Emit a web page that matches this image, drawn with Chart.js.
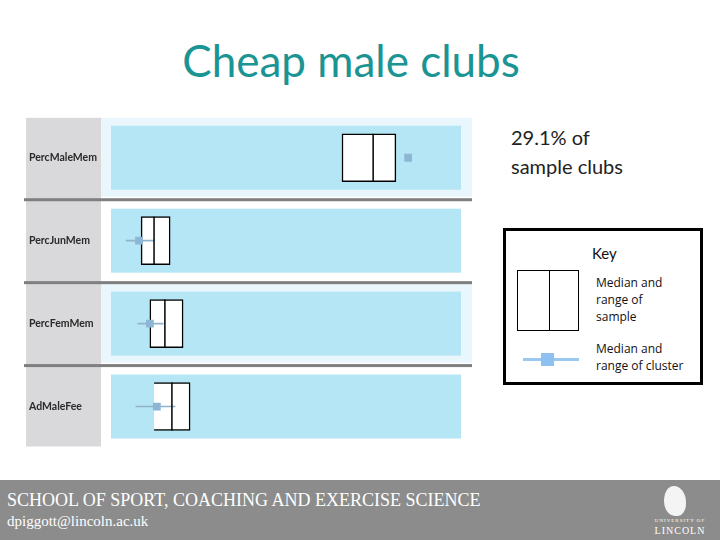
<!DOCTYPE html>
<html>
<head>
<meta charset="utf-8">
<script src="https://cdn.jsdelivr.net/npm/chart.js@4"></script>
<style>
  body { margin: 0; width: 720px; height: 540px; position: relative; background: #fff; overflow: hidden; font-family: "Open Sans", sans-serif; }
  #title { position: absolute; left: 0; width: 702px; top: 34px; text-align: center; font-size: 44px; color: #1b9494; font-family: Lato, "Open Sans", sans-serif; }
  #note { position: absolute; left: 511px; top: 123px; font-size: 20px; line-height: 29px; color: #222; font-family: Lato, sans-serif; }
  #key { position: absolute; left: 503px; top: 228px; width: 194px; height: 151px; border: 3px solid #000; }
  #key .t { position: absolute; left: 86px; top: 13px; font-size: 15px; font-family: Lato, sans-serif; color: #111; }
  #key .box { position: absolute; left: 11px; top: 39px; width: 60px; height: 59px; border: 1px solid #000; }
  #key .box div { position: absolute; left: 31px; top: 0; width: 1px; height: 59px; background: #000; }
  #key .txt { position: absolute; left: 90px; font-size: 12px; line-height: 17px; color: #111; }
  #key .ln { position: absolute; left: 17px; top: 127px; width: 56px; height: 3px; background: #99c8f0; }
  #key .sq { position: absolute; left: 35px; top: 122px; width: 13px; height: 13px; background: #8fc0f2; }
  #wrap { position: absolute; left: 20px; top: 110px; width: 460px; height: 345px; }
  #footer { position: absolute; left: 0; top: 480px; width: 720px; height: 60px; background: #8c8c8c; color: #fff; font-family: "Liberation Serif", serif; }
  #footer .a { position: absolute; left: 7px; top: 10px; font-size: 18px; }
  #footer .b { position: absolute; left: 7px; top: 33px; font-size: 15px; }
  #footer .logo1 { position: absolute; left: 664px; top: 6px; width: 22px; height: 30px; background: #f4f4f4; border-radius: 45% 55% 40% 50%; }
  #footer .logo2 { position: absolute; left: 650px; top: 38px; width: 60px; text-align: center; font-size: 5px; letter-spacing: 1px; }
  #footer .logo3 { position: absolute; left: 650px; top: 45px; width: 60px; text-align: center; font-size: 10px; letter-spacing: 1px; }
</style>
</head>
<body>
<div id="title">Cheap male clubs</div>
<div id="note">29.1% of<br>sample clubs</div>
<div id="key">
  <div class="t">Key</div>
  <div class="box"><div></div></div>
  <div class="txt" style="top:43px">Median and<br>range of<br>sample</div>
  <div class="ln"></div><div class="sq"></div>
  <div class="txt" style="top:109px">Median and<br>range of cluster</div>
</div>
<div id="wrap"><canvas id="chart" width="460" height="345"></canvas></div>
<div id="footer">
  <div class="a">SCHOOL OF SPORT, COACHING AND EXERCISE SCIENCE</div>
  <div class="b">dpiggott@lincoln.ac.uk</div>
  <div class="logo1"></div>
  <div class="logo2">UNIVERSITY OF</div>
  <div class="logo3">LINCOLN</div>
</div>
<script>
var variables = ['PercMaleMem', 'PercJunMem', 'PercFemMem', 'AdMaleFee'];
// sample: min, median, max
var sampleMin = [66.0, 8.6, 11.1, 12.3];
var sampleMedian = [74.9, 12.3, 15.4, 17.4];
var sampleMax = [81.4, 16.9, 20.6, 22.6];
// cluster: min, median, max
var clusterMin = [84.9, 4.3, 7.7, 7.1];
var clusterMedian = [84.9, 8.0, 11.1, 13.1];
var clusterMax = [84.9, 12.3, 14.9, 18.3];

var sampleRange = variables.map(function (v, i) { return [sampleMin[i], sampleMax[i]]; });
var clusterRange = variables.map(function (v, i) { return [clusterMin[i], clusterMax[i]]; });
var sampleMid = variables.map(function (v, i) { return { x: sampleMedian[i], y: v }; });
var clusterMid = variables.map(function (v, i) { return { x: clusterMedian[i], y: v }; });

// row panels behind the plot
var panels = {
  id: 'panels',
  beforeDraw: function (chart) {
    var c = chart.ctx, area = chart.chartArea, y = chart.scales.y;
    var step = (y.getPixelForValue(1) - y.getPixelForValue(0));
    c.save();
    c.fillStyle = '#d9d9db';
    c.fillRect(6, area.top + 1.5, 75, area.bottom - area.top - 3);
    variables.forEach(function (v, i) {
      var cy = y.getPixelForValue(i);
      if (i % 2 === 0) {
        c.fillStyle = '#e9f6fc';
        c.fillRect(81, cy - step / 2 + 1.5, area.right - 81 + 11, step - 4);
      }
      c.fillStyle = '#b4e6f5';
      c.fillRect(area.left, cy - 32, area.right - area.left, 64);
      if (i > 0) {
        c.fillStyle = '#7f7f7f';
        c.fillRect(4, cy - step / 2 - 1, area.right + 11 - 4, 3);
      }
    });
    c.restore();
  }
};

new Chart(document.getElementById('chart'), {
  type: 'bar',
  data: {
    labels: variables,
    datasets: [{
      label: 'Cluster range',
      data: clusterRange,
      backgroundColor: '#8fb4cc',
      barThickness: 1,
      grouped: false,
      order: 2
    }, {
      label: 'Sample range',
      data: sampleRange,
      backgroundColor: '#ffffff',
      borderColor: '#000000',
      borderWidth: 1.5,
      borderSkipped: function (ctx) { return ctx.dataIndex === 3 ? 'left' : false; },
      barThickness: 48,
      grouped: false,
      order: 3
    }, {
      type: 'line',
      label: 'Sample median',
      data: sampleMid,
      showLine: false,
      pointStyle: 'line',
      rotation: 90,
      pointRadius: 24,
      borderColor: '#000000',
      borderWidth: 1.5,
      order: 1
    }, {
      type: 'line',
      label: 'Cluster median',
      data: clusterMid,
      showLine: false,
      pointStyle: 'rect',
      pointRadius: 5.5,
      backgroundColor: '#8db6d2',
      borderWidth: 0,
      order: 0
    }]
  },
  options: {
    indexAxis: 'y',
    responsive: false,
    animation: false,
    events: [],
    layout: { autoPadding: false, padding: { left: 9, right: 19, top: 5, bottom: 7 } },
    plugins: { legend: { display: false }, tooltip: { enabled: false } },
    scales: {
      x: { type: 'linear', min: 0, max: 100, display: false },
      y: {
        type: 'category',
        grid: { display: false },
        border: { display: false },
        afterFit: function (axis) { axis.width = 82; },
        ticks: {
          crossAlign: 'far',
          padding: 0,
          color: '#2a2a2a',
          font: { family: 'Lato, sans-serif', size: 10.5, weight: 'bold' }
        }
      }
    }
  },
  plugins: [panels]
});
</script>
</body>
</html>
